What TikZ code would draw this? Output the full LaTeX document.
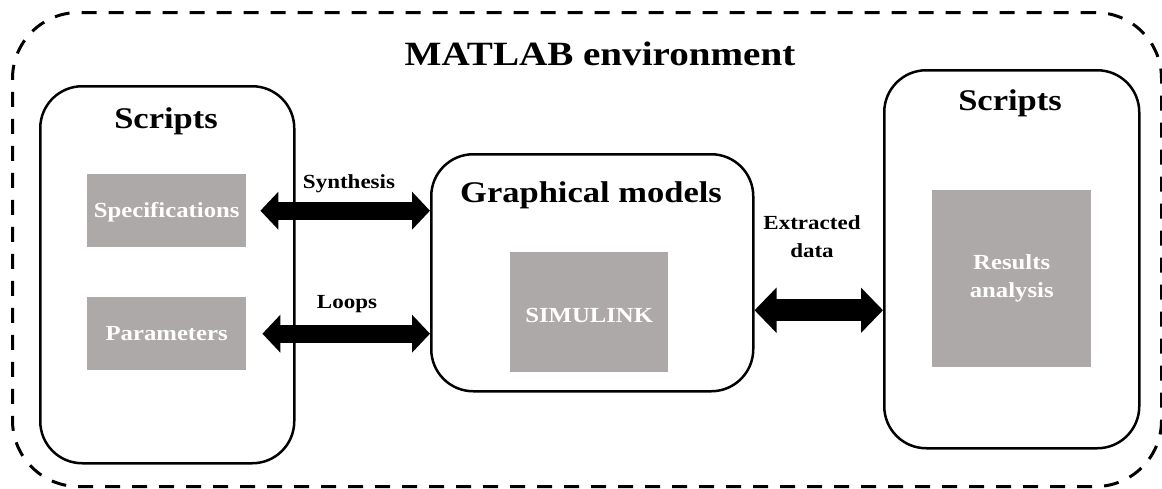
\documentclass[tikz,border=0pt]{standalone}
\usepackage{fontspec}
\setmainfont{Liberation Serif}[FakeStretch=1.15]
\usetikzlibrary{arrows.meta}
\definecolor{boxgray}{RGB}{173,169,168}
\tikzset{
  envbox/.style={draw=black, line width=3pt, dash pattern=on 15pt off 12pt, rounded corners=66pt, inner sep=0pt, anchor=north west},
  panel/.style={draw=black, line width=2.5pt, rounded corners=42pt, inner sep=0pt, anchor=north west, fill=white},
  graybox/.style={fill=boxgray, draw=none, text=white, inner sep=0pt, anchor=north west,
     font=\fontsize{21.5}{28}\selectfont\bfseries},
  bigtitle/.style={inner sep=0pt, anchor=base, font=\fontsize{34}{40}\selectfont\bfseries},
  paneltitle/.style={inner sep=0pt, anchor=base, font=\fontsize{30}{36}\selectfont\bfseries},
  arrowlabel/.style={inner sep=0pt, font=\fontsize{20}{28}\selectfont\bfseries},
  bigarrow/.style={line width=18pt, {Triangle[width=37pt,length=18pt]}-{Triangle[width=37pt,length=18pt]}},
  hugearrow/.style={line width=22pt, {Triangle[width=44pt,length=22pt]}-{Triangle[width=44pt,length=22pt]}}
}
\begin{document}
\begin{tikzpicture}[x=1pt,y=-1pt]
\useasboundingbox (0,0) rectangle (1162,488);
% environment
\node[envbox, minimum width=1149pt, minimum height=474pt] (envb) at (11,11) {};
\node[bigtitle] (envt) at (600,65) {MATLAB environment};
% panels
\node[panel, minimum width=254pt, minimum height=377pt] (ls) at (39,85) {};
\node[panel, minimum width=322pt, minimum height=237pt] (gm) at (430,153) {};
\node[panel, minimum width=255pt, minimum height=378pt] (rs) at (883,69) {};
\node[paneltitle] (lst) at (166,128) {Scripts};
\node[paneltitle] (gmt) at (591,202) {Graphical models};
\node[paneltitle] (rst) at (1010,110) {Scripts};
% gray boxes
\node[graybox, minimum width=159pt, minimum height=73pt, text height=14.2pt, text depth=0pt] (spec) at (87,174) {Specifications};
\node[graybox, minimum width=159pt, minimum height=73pt, text height=14.2pt, text depth=0pt] (par) at (87,297) {Parameters};
\node[graybox, minimum width=158pt, minimum height=120pt, text height=20pt, text depth=0pt] (sim) at (510,252) {SIMULINK};
\node[graybox, minimum width=159pt, minimum height=177pt, align=center] (res) at (932,190) {Results\\analysis};
% arrows
\draw[bigarrow] ([xshift=14pt]spec.east) -- (gm.west |- spec.east);
\draw[bigarrow] ([xshift=16pt]par.east) -- (gm.west |- par.east);
\coordinate (ex) at ([yshift=-37.5pt]gm.east);
\draw[hugearrow] (ex) -- (ex -| rs.west);
% arrow labels
\node[arrowlabel, anchor=base] (syn) at (349,188) {Synthesis};
\node[arrowlabel, anchor=base] (loo) at (347,308) {Loops};
\node[arrowlabel, anchor=north, align=center] (ext) at (812,215.5) {Extracted\\data};
\end{tikzpicture}
\end{document}
